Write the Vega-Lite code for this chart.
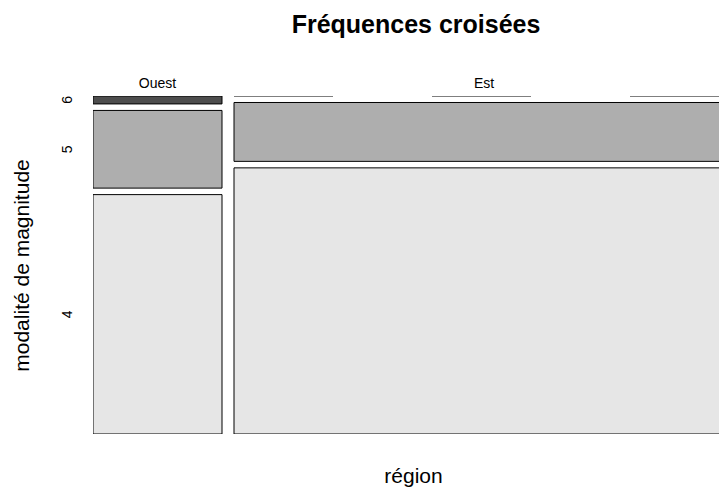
{
  "$schema": "https://vega.github.io/schema/vega-lite/v6.json",
  "autosize": {"type": "none"},
  "width": 626,
  "height": 338,
  "padding": {"left": 93, "top": 96, "right": 0, "bottom": 57},
  "background": "white",
  "title": {"text": "Fréquences croisées", "fontSize": 25, "fontWeight": "bold", "font": "Liberation Sans", "color": "black", "anchor": "middle", "dx": 10, "offset": 39},
  "config": {"view": {"stroke": null}, "font": "Liberation Sans"},
  "data": {"values": [
    {"region": "Ouest", "magnitude": 4, "count": 151},
    {"region": "Ouest", "magnitude": 5, "count": 49},
    {"region": "Ouest", "magnitude": 6, "count": 5},
    {"region": "Est", "magnitude": 4, "count": 651},
    {"region": "Est", "magnitude": 5, "count": 144},
    {"region": "Est", "magnitude": 6, "count": 0}
  ]},
  "transform": [
    {"joinaggregate": [{"op": "sum", "field": "count", "as": "regTotal"}], "groupby": ["region"]},
    {"window": [{"op": "sum", "field": "count", "as": "cumIn"}, {"op": "row_number", "as": "idx"}], "groupby": ["region"], "sort": [{"field": "magnitude", "order": "descending"}], "frame": [null, 0]},
    {"window": [{"op": "dense_rank", "as": "regIdx"}], "sort": [{"field": "region", "order": "descending"}]},
    {"window": [{"op": "sum", "field": "count", "as": "cumAll2"}], "sort": [{"field": "region", "order": "descending"}, {"field": "magnitude", "order": "descending"}], "frame": [null, 0]},
    {"calculate": "datum.cumAll2 - datum.cumIn + (datum.regIdx - 1) * 19.07", "as": "x0"},
    {"calculate": "datum.x0 + datum.regTotal", "as": "x1"},
    {"calculate": "(datum.x0 + datum.x1) / 2", "as": "xm"},
    {"calculate": "(datum.cumIn - datum.count) / datum.regTotal * 0.96154 + (datum.idx - 1) * 0.01923", "as": "y0"},
    {"calculate": "datum.y0 + datum.count / datum.regTotal * 0.96154", "as": "y1"},
    {"calculate": "(datum.y0 + datum.y1) / 2", "as": "ym"}
  ],
  "layer": [
    {
      "transform": [{"filter": "datum.count > 0"}],
      "mark": {"type": "rect", "stroke": "black", "strokeWidth": 1, "clip": true},
      "encoding": {
        "x": {"field": "x0", "type": "quantitative", "scale": {"domain": [0, 994.8], "nice": false, "zero": false}, "axis": {"title": "région", "labels": false, "ticks": false, "domain": false, "grid": false, "titleFontSize": 21, "titleFontWeight": "normal", "titleColor": "black", "titlePadding": 31, "titleX": 320}},
        "x2": {"field": "x1"},
        "y": {"field": "y0", "type": "quantitative", "scale": {"domain": [0, 1], "reverse": true, "nice": false, "zero": false}, "axis": {"title": "modalité de magnitude", "labels": false, "ticks": false, "domain": false, "grid": false, "titleFontSize": 21, "titleFontWeight": "normal", "titleColor": "black", "titlePadding": 61}},
        "y2": {"field": "y1"},
        "color": {"field": "magnitude", "type": "nominal", "scale": {"domain": [4, 5, 6], "range": ["#E6E6E6", "#AEAEAE", "#4D4D4D"]}, "legend": null}
      }
    },
    {
      "transform": [{"filter": "datum.count == 0"}],
      "mark": {"type": "rule", "color": "black", "strokeWidth": 1.2, "strokeDash": [99, 99], "clip": true},
      "encoding": {
        "x": {"field": "x0", "type": "quantitative"},
        "x2": {"field": "x1"},
        "y": {"field": "y0", "type": "quantitative"}
      }
    },
    {
      "transform": [{"filter": "datum.idx == 1"}],
      "mark": {"type": "text", "fontSize": 14, "color": "black", "align": "center", "baseline": "alphabetic", "dy": -8},
      "encoding": {
        "x": {"field": "xm", "type": "quantitative"},
        "y": {"field": "y0", "type": "quantitative"},
        "text": {"field": "region"}
      }
    },
    {
      "transform": [{"filter": "datum.region == 'Ouest'"}],
      "mark": {"type": "text", "fontSize": 14, "color": "black", "align": "center", "baseline": "middle", "angle": 270, "dy": -25},
      "encoding": {
        "x": {"field": "x0", "type": "quantitative"},
        "y": {"field": "ym", "type": "quantitative"},
        "text": {"field": "magnitude", "type": "nominal"}
      }
    }
  ]
}
